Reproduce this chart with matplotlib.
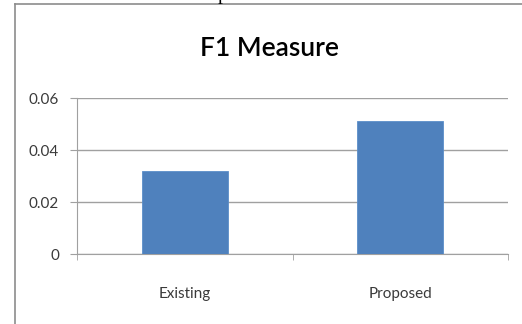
import matplotlib
matplotlib.use("Agg")
import matplotlib.pyplot as plt
from matplotlib.lines import Line2D

# data
categories = ["Existing", "Proposed"]
f1_values = [0.032, 0.051]
y_ticks = [0, 0.02, 0.04, 0.06]
y_labels = ["0", "0.02", "0.04", "0.06"]

plt.rcParams['font.family'] = ['Lato', 'DejaVu Sans']

fig = plt.figure(figsize=(5.22, 3.24), dpi=100)
W, H = 522, 324

# chart frame (left and top edges visible)
fig.add_artist(Line2D([15 / W, 15 / W], [0, 1 - 4 / H], color="#8c8c8c", lw=1.2))
fig.add_artist(Line2D([15 / W, 1], [1 - 4 / H, 1 - 4 / H], color="#8c8c8c", lw=1.2))

# clipped caption fragment above the chart (cut off in the source too)
fig.text(222 / W, 1.0, "p", family="Liberation Serif", fontsize=14,
         va="baseline", ha="center", color="black")

ax = fig.add_axes([77 / W, 1 - 254 / H, (508 - 77) / W, (254 - 98) / H])

x = range(len(categories))
ax.bar(x, f1_values, width=0.4, color="#4f81bd", edgecolor="#5b8ec9", lw=0.6, zorder=3)

ax.set_xlim(-0.5, len(categories) - 0.5)
ax.set_ylim(0, 0.06)
ax.set_yticks(y_ticks)
ax.set_yticklabels(y_labels)
ax.set_xticks(list(x))
ax.set_xticklabels(categories)
ax.tick_params(axis="x", length=0, pad=24, labelsize=11, labelcolor="#3a3a3a")
ax.tick_params(axis="y", length=5, color="#a0a0a0", pad=8, labelsize=11, labelcolor="#3a3a3a")

# category separator ticks
ax.set_xticks([-0.5, 0.5, 1.5], minor=True)
ax.tick_params(axis="x", which="minor", length=4, color="#a0a0a0", direction="out")

ax.grid(axis="y", color="#a0a0a0", lw=1, zorder=0)
for side in ["top", "right"]:
    ax.spines[side].set_visible(False)
ax.spines["left"].set_color("#a0a0a0")
ax.spines["bottom"].set_color("#a0a0a0")

fig.text(269 / W, 1 - 48 / H, "F1 Measure", ha="center", va="center",
         fontsize=19, fontweight="semibold", color="black")

fig.savefig("out.png", dpi=100)
